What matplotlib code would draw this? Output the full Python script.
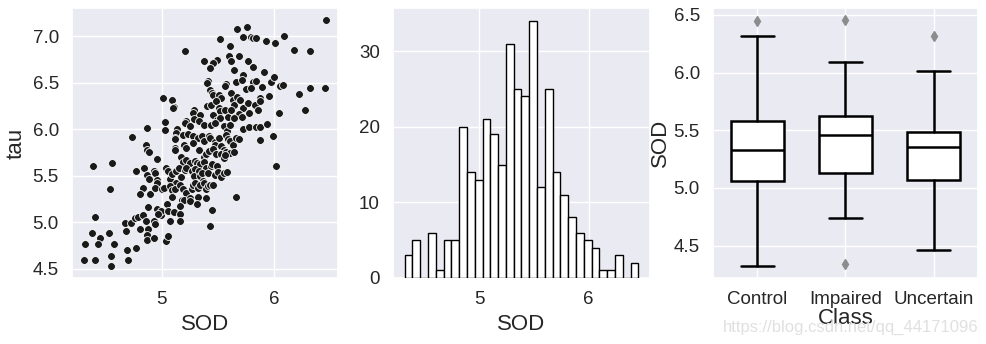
import matplotlib
matplotlib.use("Agg")
import matplotlib.pyplot as plt
import numpy as np
import seaborn as sns

# scatter values (SOD, tau)
sod = [6.46, 5.76, 5.67, 5.72, 5.79, 5.81, 5.84, 5.93, 6.01, 6.09, 5.52, 5.61, 5.21, 6.18, 6.32,
       5.60, 5.69, 5.38, 5.49, 5.46, 5.43, 5.62, 5.77, 5.64, 5.81, 5.91, 5.72, 5.81, 5.97, 6.00,
       6.05, 6.08, 5.89, 5.84, 5.41, 5.40, 5.57, 5.56, 5.66, 5.71, 5.75, 5.79, 5.43, 5.45, 5.46,
       5.51, 5.53, 5.62, 5.63, 5.64, 5.67, 5.70, 5.72, 5.77, 5.83, 5.87, 5.87, 5.95, 6.22, 6.32,
       6.45, 6.27, 6.04, 5.01, 5.09, 5.11, 5.10, 5.40, 5.44, 5.48, 5.51, 5.52, 5.56, 5.59, 5.62,
       5.65, 5.69, 5.71, 5.78, 5.86, 5.46, 5.49, 5.52, 5.29, 5.28, 5.34, 5.22, 5.21, 5.25, 5.29,
       5.33, 5.38, 5.44, 5.47, 5.55, 5.58, 5.61, 5.64, 5.72, 5.78, 5.84, 5.87, 5.94, 5.99, 5.87,
       5.03, 5.03, 5.14, 5.13, 5.12, 5.12, 5.19, 5.23, 5.28, 5.32, 5.36, 5.38, 5.42, 5.43, 5.47,
       5.47, 5.51, 5.53, 5.55, 5.57, 5.59, 5.61, 5.63, 5.66, 5.69, 4.87, 4.74, 4.86, 4.87, 4.89,
       4.96, 5.12, 5.12, 5.20, 5.22, 5.28, 5.33, 5.38, 5.39, 5.42, 5.46, 5.48, 5.53, 5.57, 5.61,
       5.64, 5.17, 5.19, 5.22, 5.25, 5.30, 5.31, 5.34, 5.38, 5.39, 5.44, 5.45, 5.49, 5.55, 5.56,
       4.39, 4.56, 4.77, 4.84, 4.87, 4.89, 4.93, 4.94, 4.96, 4.96, 5.04, 5.06, 5.07, 5.09, 5.13,
       5.13, 5.15, 5.17, 5.21, 5.22, 5.27, 5.30, 5.29, 5.33, 5.34, 5.36, 5.37, 5.41, 5.47, 5.50,
       5.53, 5.55, 5.58, 6.02, 4.54, 4.83, 4.81, 4.90, 4.94, 5.00, 5.02, 5.07, 5.09, 5.12, 5.16,
       5.19, 5.22, 5.27, 5.28, 5.30, 5.32, 5.34, 5.38, 5.39, 5.41, 5.43, 5.46, 5.09, 5.18, 5.20,
       5.25, 5.25, 5.32, 5.39, 5.66, 4.88, 4.96, 4.99, 4.99, 5.05, 5.06, 5.07, 5.11, 5.16, 5.16,
       5.16, 5.31, 5.45, 4.41, 4.67, 4.73, 4.76, 4.79, 4.81, 4.83, 4.86, 4.88, 4.93, 4.94, 4.97,
       4.68, 5.43, 4.38, 4.45, 4.53, 4.32, 4.43, 4.58, 4.69, 4.77, 4.87, 4.87, 4.93, 5.04, 5.06,
       4.31, 4.41, 4.55, 4.55, 4.70]
tau = [7.17, 7.10, 7.08, 6.99, 6.99, 6.98, 6.98, 6.95, 6.93, 7.00, 6.97, 6.89, 6.84, 6.85, 6.84,
       6.79, 6.79, 6.73, 6.74, 6.71, 6.66, 6.73, 6.73, 6.64, 6.67, 6.61, 6.58, 6.51, 6.51, 6.56,
       6.46, 6.47, 6.45, 6.52, 6.52, 6.50, 6.48, 6.46, 6.51, 6.53, 6.43, 6.44, 6.42, 6.39, 6.37,
       6.37, 6.33, 6.39, 6.31, 6.26, 6.35, 6.31, 6.23, 6.28, 6.26, 6.33, 6.30, 6.36, 6.38, 6.44,
       6.44, 6.21, 6.17, 6.33, 6.31, 6.24, 6.23, 6.25, 6.26, 6.30, 6.23, 6.19, 6.21, 6.13, 6.20,
       6.13, 6.16, 6.13, 6.17, 6.21, 6.15, 6.10, 6.12, 6.20, 6.17, 6.15, 6.09, 6.06, 6.03, 6.11,
       6.09, 6.04, 6.04, 6.06, 6.03, 5.98, 6.04, 6.12, 6.00, 6.02, 6.02, 6.02, 6.05, 5.93, 5.88,
       6.08, 5.99, 6.00, 5.96, 5.90, 5.89, 5.94, 5.95, 5.92, 5.90, 5.93, 5.87, 5.93, 5.90, 5.86,
       5.83, 5.90, 5.82, 5.78, 5.94, 5.89, 5.87, 5.83, 5.90, 5.89, 6.01, 5.91, 5.83, 5.78, 5.75,
       5.68, 5.80, 5.78, 5.83, 5.80, 5.85, 5.77, 5.70, 5.73, 5.76, 5.79, 5.73, 5.73, 5.75, 5.74,
       5.75, 5.70, 5.65, 5.67, 5.63, 5.66, 5.64, 5.62, 5.65, 5.58, 5.60, 5.62, 5.60, 5.69, 5.72,
       5.60, 5.63, 5.55, 5.58, 5.51, 5.46, 5.55, 5.53, 5.45, 5.42, 5.58, 5.55, 5.46, 5.52, 5.55,
       5.42, 5.58, 5.48, 5.56, 5.58, 5.55, 5.57, 5.50, 5.55, 5.49, 5.53, 5.44, 5.53, 5.51, 5.54,
       5.48, 5.53, 5.54, 5.60, 5.36, 5.37, 5.30, 5.30, 5.37, 5.35, 5.37, 5.39, 5.34, 5.36, 5.40,
       5.36, 5.31, 5.35, 5.40, 5.42, 5.37, 5.40, 5.42, 5.35, 5.39, 5.40, 5.40, 5.27, 5.24, 5.24,
       5.26, 5.23, 5.27, 5.26, 5.27, 5.16, 5.14, 5.08, 5.12, 5.19, 5.12, 5.01, 5.11, 5.17, 5.09,
       5.01, 5.19, 5.13, 5.05, 4.99, 4.99, 5.04, 5.05, 4.92, 5.08, 5.01, 4.92, 5.01, 4.98, 5.09,
       4.90, 4.96, 4.88, 4.83, 4.88, 4.76, 4.76, 4.76, 4.70, 4.72, 4.86, 4.81, 4.83, 4.80, 4.85,
       4.59, 4.59, 4.64, 4.53, 4.59]

# histogram of SOD: 30 bins
sod_lo, sod_hi = 4.317, 6.456
hist_counts = [3, 5, 0, 6, 1, 5, 5, 20, 14, 13, 21, 19, 15, 31, 25,
               24, 34, 12, 25, 14, 11, 8, 6, 5, 4, 1, 1, 3, 0, 2]

# box plot of SOD by class
classes = ["Control", "Impaired", "Uncertain"]
box_q1 = [5.058, 5.130, 5.066]
box_med = [5.326, 5.459, 5.352]
box_q3 = [5.577, 5.620, 5.482]
box_lo = [4.325, 4.743, 4.461]
box_hi = [6.321, 6.090, 6.013]
box_fliers = [[6.445], [6.454, 4.337], [6.318]]

sns.set_theme(style="darkgrid")
plt.rcParams["font.family"] = ["Liberation Sans", "DejaVu Sans"]
tick_fs = 13.5
label_fs = 16

fig = plt.figure(figsize=(9.87, 3.44), dpi=100)
W, H = 987, 344
ax1 = fig.add_axes([72 / W, 1 - 278 / H, 266 / W, 270 / H])
ax2 = fig.add_axes([393 / W, 1 - 278 / H, 257 / W, 270 / H])
ax3 = fig.add_axes([713 / W, 1 - 278 / H, 265 / W, 270 / H])

# scatter
ax1.scatter(sod, tau, s=32, color="#1a1a1a", edgecolor="white", linewidth=0.6, zorder=3)
ax1.set_xticks([5, 6])
ax1.set_yticks([4.5, 5.0, 5.5, 6.0, 6.5, 7.0])
ax1.set_yticklabels(["4.5", "5.0", "5.5", "6.0", "6.5", "7.0"])
ax1.set_xlabel("SOD", fontsize=label_fs)
ax1.set_ylabel("tau", fontsize=label_fs)

# histogram
edges = np.linspace(sod_lo, sod_hi, len(hist_counts) + 1)
ax2.hist(edges[:-1], bins=edges, weights=hist_counts, color="white",
         edgecolor="black", linewidth=1.0, zorder=3)
ax2.set_xticks([5, 6])
ax2.set_yticks([0, 10, 20, 30])
ax2.set_xlabel("SOD", fontsize=label_fs)

# box plot
stats = []
for i in range(len(classes)):
    stats.append(dict(label=classes[i], q1=box_q1[i], med=box_med[i], q3=box_q3[i],
                      whislo=box_lo[i], whishi=box_hi[i], fliers=box_fliers[i]))
line = dict(color="black", linewidth=1.8)
ax3.bxp(stats, positions=range(len(classes)), widths=0.6, capwidths=0.37,
        patch_artist=True,
        boxprops=dict(facecolor="white", edgecolor="black", linewidth=1.8),
        medianprops=line, whiskerprops=line, capprops=line,
        flierprops=dict(marker="d", markerfacecolor="#8c8c8c", markeredgecolor="#8c8c8c",
                        markersize=5), zorder=3)
ax3.set_xlim(-0.5, 2.5)
ax3.set_yticks([4.5, 5.0, 5.5, 6.0, 6.5])
ax3.set_yticklabels(["4.5", "5.0", "5.5", "6.0", "6.5"])
ax3.set_xlabel("Class", fontsize=label_fs, labelpad=0)
ax3.set_ylabel("SOD", fontsize=label_fs, labelpad=2)

for ax in (ax1, ax2, ax3):
    ax.tick_params(labelsize=tick_fs, colors="#262626")
    ax.xaxis.label.set_color("#262626")
    ax.yaxis.label.set_color("#262626")

fig.text(0.991, 0.025, "https://blog.csdn.net/qq_44171096", ha="right", va="bottom",
         fontsize=12, color="#e0e0e0", zorder=5)

fig.savefig("out.png", dpi=100)
